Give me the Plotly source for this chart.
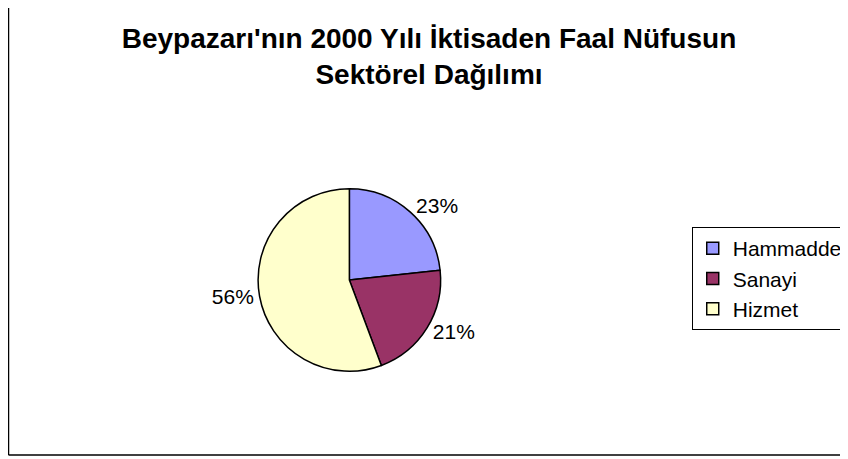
import plotly.graph_objects as go

categories = ["Hammadde", "Sanayi", "Hizmet"]
values = [23.3, 21.0, 55.7]
colors = ["#9999FF", "#993366", "#FFFFCC"]
title_text = "Beypazarı'nın 2000 Yılı İktisaden Faal Nüfusun<br>Sektörel Dağılımı"

# page has an 8px body margin; figure sized to fit the window
OFF = 8
W, H = 840, 451
FONT = "Arial, Liberation Sans, sans-serif"


def fx(px):
    return (px - OFF) / W


def fy(py):
    return 1 - (py - OFF) / H


fig = go.Figure(go.Pie(
    labels=categories,
    values=values,
    marker=dict(colors=colors, line=dict(color="black", width=1.5)),
    sort=False,
    direction="clockwise",
    rotation=0,
    textposition="outside",
    texttemplate="%{percent:.0%}",
    textfont=dict(family=FONT, size=21, color="black"),
    domain=dict(x=[fx(259.3), fx(442.7)], y=[fy(371.7), fy(188.3)]),
    hoverinfo="label+percent",
))

fig.update_layout(
    width=W, height=H,
    margin=dict(l=0, r=0, t=0, b=0),
    paper_bgcolor="white",
    plot_bgcolor="white",
    font=dict(family=FONT, color="black"),
    title=dict(
        text=title_text,
        x=fx(431), xanchor="center",
        y=fy(48), yanchor="top",
        xref="paper", yref="container",
        font=dict(family=FONT, size=28, color="black", weight="bold"),
    ),
    legend=dict(
        x=fx(695), xanchor="left",
        y=fy(227), yanchor="top",
        bordercolor="black", borderwidth=1,
        bgcolor="white",
        font=dict(family=FONT, size=21, color="black"),
        itemclick=False,
    ),
    showlegend=True,
    shapes=[
        dict(type="line", xref="paper", yref="paper",
             x0=fx(8.5), x1=fx(8.5), y0=fy(455), y1=1.01,
             line=dict(color="black", width=1.5)),
        dict(type="line", xref="paper", yref="paper",
             x0=fx(8.5), x1=1.01, y0=fy(455), y1=fy(455),
             line=dict(color="black", width=1.5)),
    ],
)

fig.write_html("out.html")
